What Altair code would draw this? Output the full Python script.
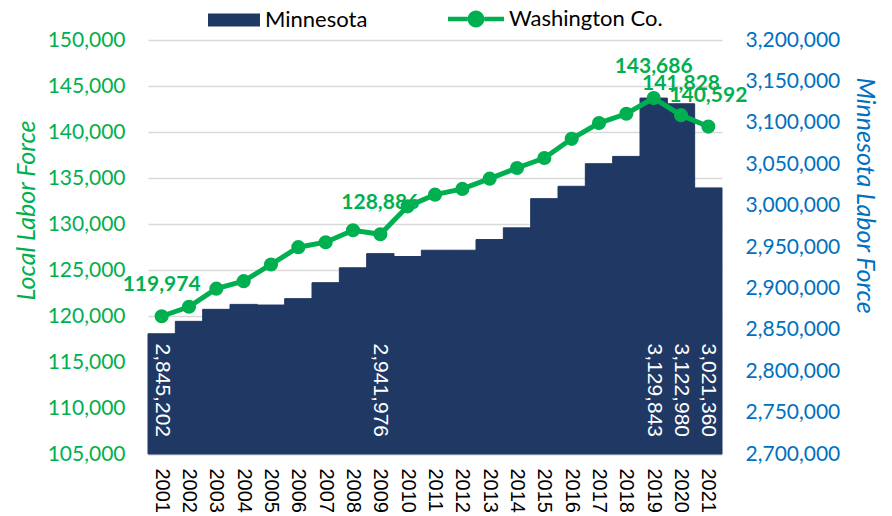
import altair as alt
import pandas as pd

years = [str(y) for y in range(2001, 2022)]
minnesota = [2845202, 2860200, 2874700, 2880700, 2879900, 2887600, 2906900,
             2924900, 2941976, 2938500, 2946100, 2946100, 2959000, 2973100,
             3008400, 3023300, 3050600, 3059400, 3129843, 3122980, 3021360]
washington = [119974, 121000, 122970, 123790, 125600, 127480, 128020,
              129320, 128886, 131920, 133190, 133810, 134930, 136090,
              137170, 139260, 140970, 141980, 143686, 141828, 140592]
label_years = ["2001", "2009", "2019", "2020", "2021"]

left_ticks = list(range(105000, 150001, 5000))
right_ticks = list(range(2700000, 3200001, 50000))

NAVY = "#203864"
GREEN = "#00B050"
BLUE = "#0070C0"

df = pd.DataFrame({
    "year": years,
    "mn": minnesota,
    "wa": washington,
    "s_mn": "Minnesota",
    "s_wa": "Washington Co.",
})

x_axis = alt.Axis(title=None, labelAngle=90, labelFont="Liberation Sans",
                  labelFontSize=20, labelColor="black", labelPadding=14,
                  ticks=False, domain=True, domainColor="#D9D9D9",
                  domainWidth=2, grid=False)
x_scale = alt.Scale(paddingInner=0, paddingOuter=0)


def x_enc():
    return alt.X("year:N", sort=years, scale=x_scale, axis=x_axis)


right_scale = alt.Scale(domain=[right_ticks[0], right_ticks[-1]], zero=False, nice=False)
left_scale = alt.Scale(domain=[left_ticks[0], left_ticks[-1]], zero=False, nice=False)

right_axis = alt.Axis(orient="right", values=right_ticks,
                      labelExpr="format(datum.value, ',')",
                      labelColor=BLUE, labelFont="Lato", labelFontSize=21,
                      labelPadding=23, ticks=False, domain=False, grid=False,
                      title="Minnesota Labor Force", titleColor=BLUE,
                      titleFont="Lato", titleFontSize=25, titleFontStyle="italic",
                      titleFontWeight="normal", titleAngle=90,
                      titleX=129, titleY=155)
left_axis = alt.Axis(orient="left", values=left_ticks,
                     labelExpr="format(datum.value, ',')",
                     labelColor=GREEN, labelFont="Lato", labelFontSize=21,
                     labelPadding=23, ticks=False, domain=False, grid=True,
                     gridColor="#D9D9D9", gridWidth=1.5,
                     title="Local Labor Force", titleColor=GREEN,
                     titleFont="Lato", titleFontSize=25, titleFontStyle="italic",
                     titleFontWeight="normal", titleAngle=-90,
                     titleX=-109, titleY=170)

base = alt.Chart(df).transform_calculate(base=str(right_ticks[0]))

bars = base.mark_bar(color=NAVY, stroke=NAVY, strokeWidth=1).encode(
    x=x_enc(),
    y=alt.Y("mn:Q", scale=right_scale, axis=right_axis),
    y2=alt.Y2("base:Q"),
    color=alt.Color("s_mn:N", scale=alt.Scale(domain=["Minnesota"], range=[NAVY]),
                    legend=alt.Legend(orient="none", legendX=60, legendY=-46, title=None,
                                      symbolType="M-1,-0.25L1,-0.25L1,0.25L-1,0.25Z",
                                      symbolSize=2704, symbolStrokeWidth=0,
                                      labelFont="Lato", labelFontSize=22,
                                      labelColor="black", labelOffset=5)),
)

bar_labels = base.transform_filter(
    alt.FieldOneOfPredicate(field="year", oneOf=label_years)
).mark_text(angle=90, align="right", baseline="middle", dx=-17,
            color="white", font="Liberation Sans", fontSize=21).encode(
    x=x_enc(),
    y=alt.Y("base:Q", scale=right_scale, axis=right_axis),
    text=alt.Text("mn:Q", format=","),
)

line = alt.Chart(df).mark_line(color=GREEN, strokeWidth=5).encode(
    x=x_enc(),
    y=alt.Y("wa:Q", scale=left_scale, axis=left_axis),
)

points = alt.Chart(df).mark_point(filled=True, size=200, opacity=1).encode(
    x=x_enc(),
    y=alt.Y("wa:Q", scale=left_scale, axis=left_axis),
    color=alt.Color("s_wa:N", scale=alt.Scale(domain=["Washington Co."], range=[GREEN]),
                    legend=alt.Legend(orient="none", legendX=300, legendY=-49, title=None,
                                      symbolType="M-1,-0.08L-0.3,-0.08L-0.3,0.08L-1,0.08Z M0.3,-0.08L1,-0.08L1,0.08L0.3,0.08Z M-0.3,0A0.3,0.3 0 1,1 0.3,0A0.3,0.3 0 1,1 -0.3,0Z",
                                      symbolSize=3136, symbolStrokeWidth=0,
                                      labelFont="Lato", labelFontSize=22,
                                      labelColor="black", labelOffset=5)),
)

line_labels = alt.Chart(df).transform_filter(
    alt.FieldOneOfPredicate(field="year", oneOf=label_years)
).mark_text(align="center", baseline="middle", dy=-31, color=GREEN,
            font="Lato", fontSize=21, fontWeight="bold").encode(
    x=x_enc(),
    y=alt.Y("wa:Q", scale=left_scale, axis=left_axis),
    text=alt.Text("wa:Q", format=","),
)

right_layer = alt.layer(bars, bar_labels)
left_layer = alt.layer(line, points, line_labels)

chart = alt.layer(right_layer, left_layer).resolve_scale(
    y="independent", color="independent"
).properties(
    width=574, height=414,
    autosize=alt.AutoSizeParams(type="none"),
    padding={"left": 140, "top": 32, "right": 162, "bottom": 62},
).configure_view(stroke=None)

chart.save("out.html", embed_options={"renderer": "svg", "actions": False})
